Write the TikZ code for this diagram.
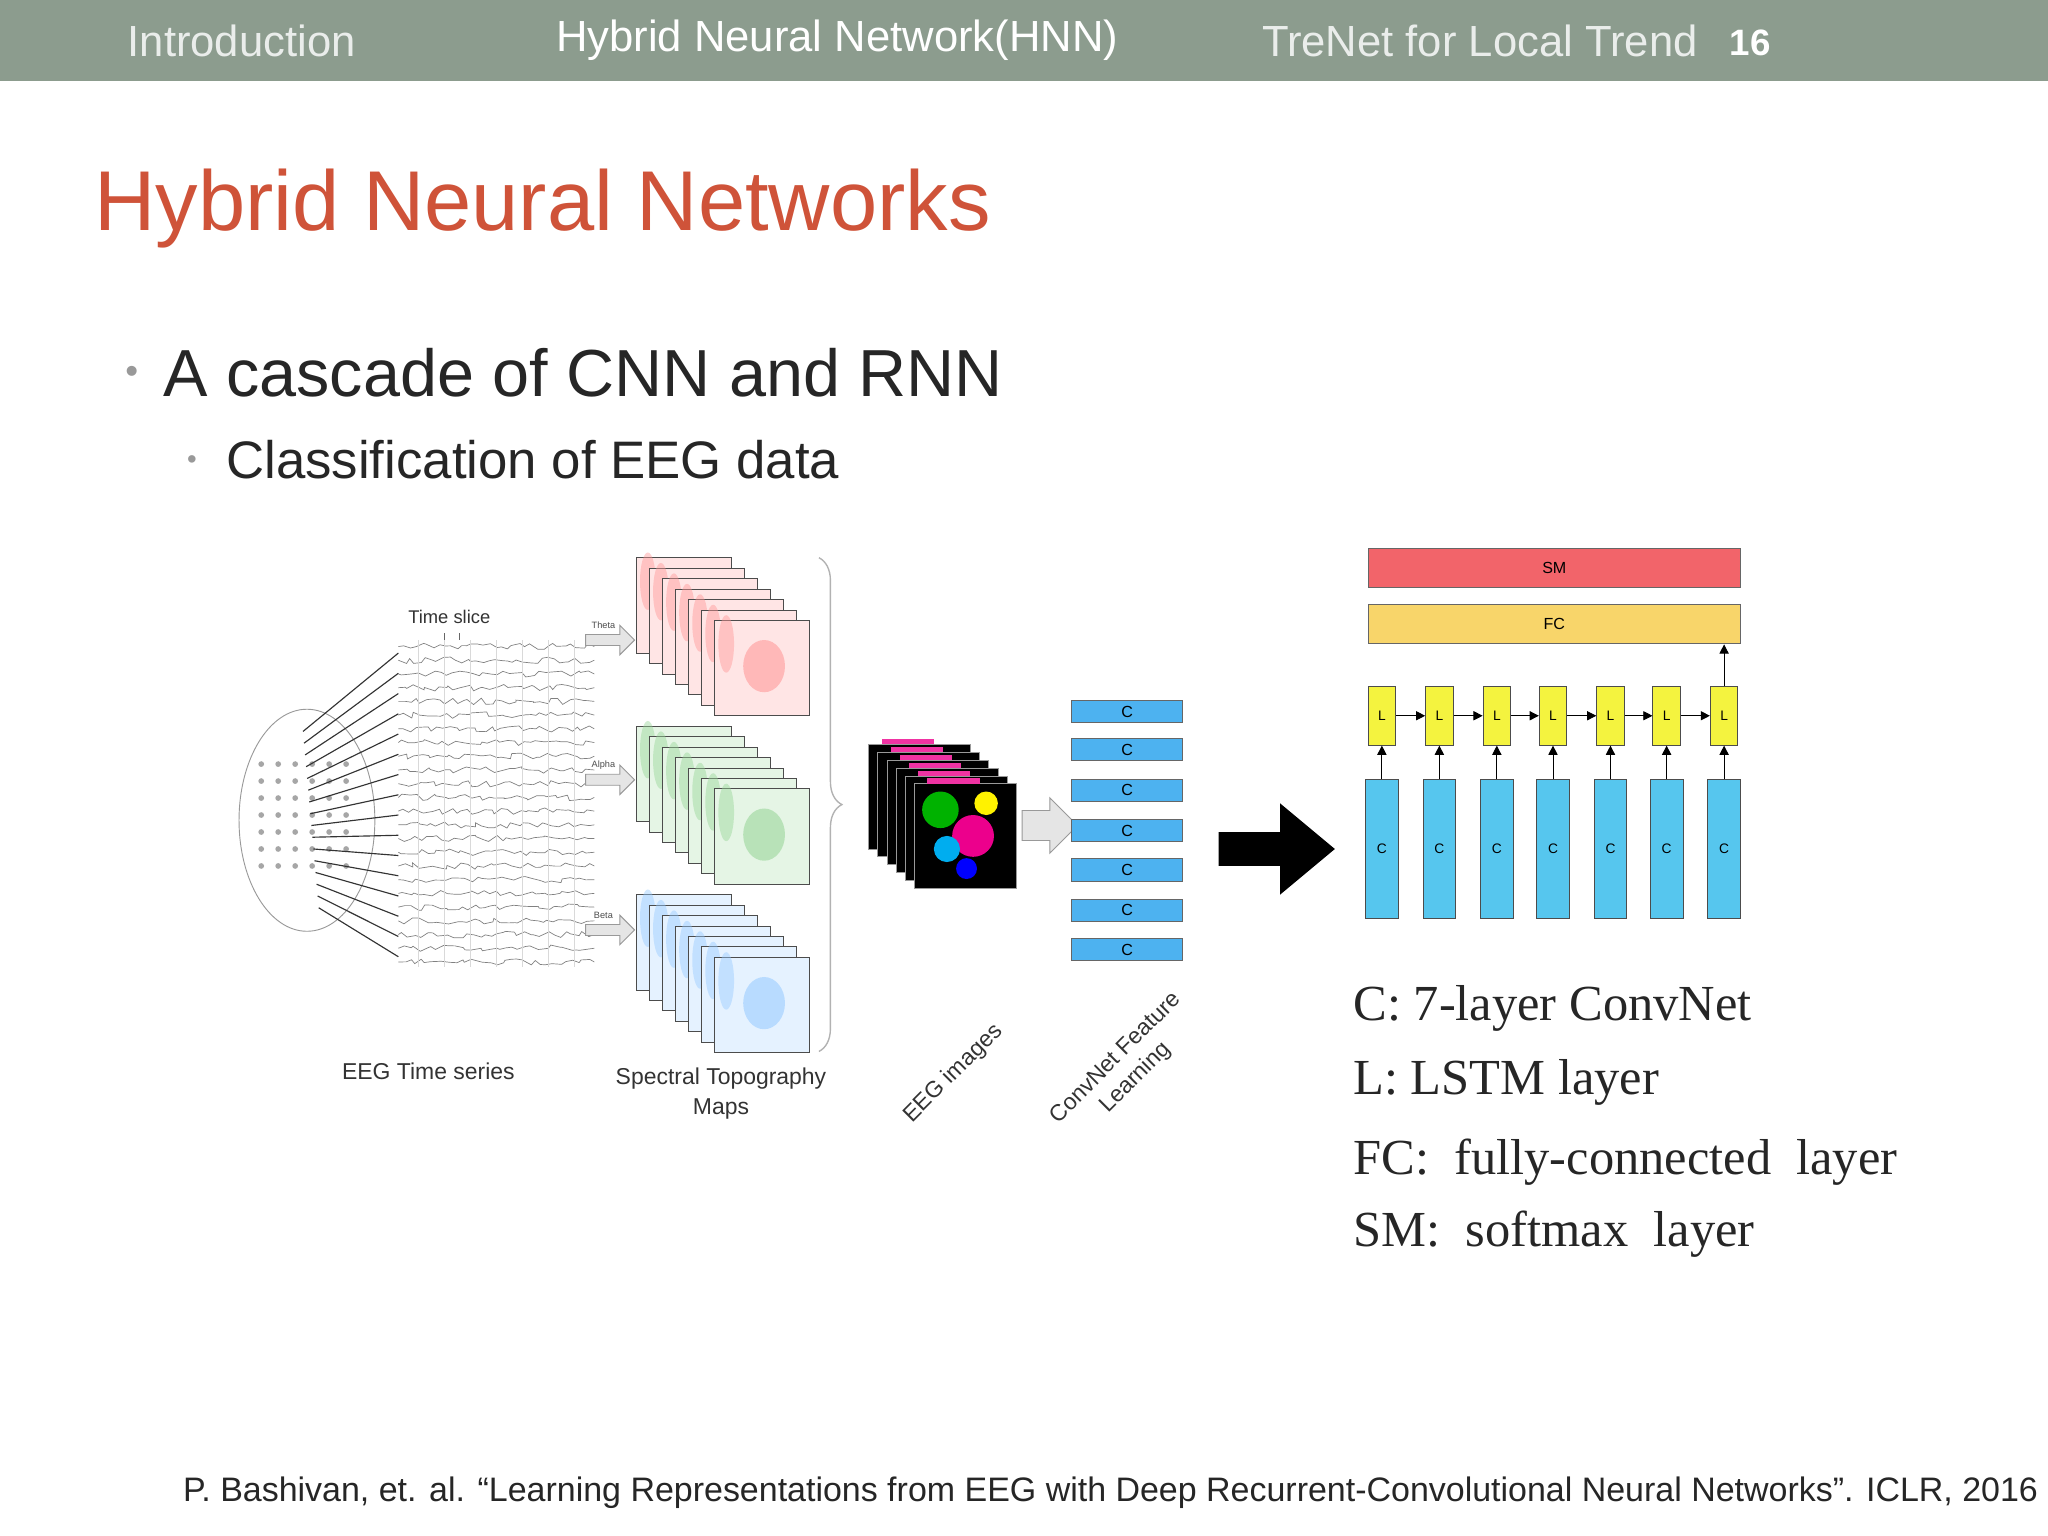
\documentclass[tikz,border=0pt]{standalone}
\usepackage{fontspec}
\setmainfont{Liberation Sans}
\newfontfamily\serifo{Liberation Serif}
\usetikzlibrary{decorations.pathmorphing,decorations.pathreplacing,arrows.meta,shapes.arrows}
\definecolor{bar}{HTML}{8C9C8E}
\definecolor{ttl}{HTML}{CF5339}
\definecolor{smred}{HTML}{F2646A}
\definecolor{fcyel}{HTML}{F8D56A}
\definecolor{lyel}{HTML}{F4F33F}
\definecolor{cblue}{HTML}{56C6EE}
\begin{document}
\begin{tikzpicture}[x=0.02cm,y=-0.02cm,
  hdr/.style={font=\fontsize{19}{22}\selectfont,text=white!82!bar},
  lbl/.style={font=\fontsize{8}{9}\selectfont,text=black!80,align=center},
  lbox/.style={draw=black!70,fill=lyel,minimum width=0.42cm,minimum height=0.9cm,inner sep=0pt,font=\fontsize{6}{7}\selectfont},
  cbox/.style={draw=black!70,fill=cblue,minimum width=0.5cm,minimum height=2.12cm,inner sep=0pt,font=\fontsize{6}{7}\selectfont},
  cbar/.style={draw=black!60,fill=cblue!90!blue,minimum width=1.7cm,minimum height=0.34cm,inner sep=0pt,font=\fontsize{7}{8}\selectfont},
  ar/.style={-{Triangle[length=4pt,width=4pt]},black},
  legend/.style={font=\serifo\fontsize{22}{24}\selectfont,anchor=west,text=black!85}]
\useasboundingbox (0,0) rectangle (1568,1176);
\fill[white] (0,0) rectangle (1568,1176);
% header
\fill[bar] (0,0) rectangle (1568,62);
\node[hdr] (h1) at (185,31) {Introduction};
\node[hdr,text=white] (h2) at (641,31) {Hybrid Neural Network(HNN)};
\node[hdr] (h3) at (1133,31) {TreNet for Local Trend};
\node[font=\bfseries\fontsize{16}{20}\selectfont,text=white] (h4) at (1340,33) {16};
% title
\node[anchor=west,text=ttl,font=\fontsize{37}{42}\selectfont] (t) at (66,160) {Hybrid Neural Networks};
\node[anchor=west,text=black!85,font=\fontsize{29}{34}\selectfont] (b1) at (119,285) {A cascade of CNN and RNN};
\node[text=black!40,font=\fontsize{16}{16}\selectfont] (d1) at (101,287) {•};
\node[anchor=west,text=black!85,font=\fontsize{23}{28}\selectfont] (b2) at (167,352) {Classification of EEG data};
\node[text=black!40,font=\fontsize{12}{12}\selectfont] (d2) at (147,354) {•};
% EEG head
\draw[black!40] (235,628) ellipse [x radius=52, y radius=85];
\foreach \i in {0,...,6}{\foreach \j in {0,...,5}{\fill[black!35] (200+\j*13,585+\i*13) circle (2.2);}}
% time series
\pgfmathsetseed{7}
\foreach \k in {0,...,23}{
  \draw[black!50,line width=0.3pt,decorate,decoration={random steps,segment length=2.5,amplitude=1.4}] (305,495+\k*10.5) -- (455,495+\k*10.5);
}
\foreach \x in {320,340,...,450}{\draw[black!15] (\x,490) -- (\x,740);}
\draw[black!60] (340,485) -- (340,490) (352,485) -- (352,490);
\foreach \k in {0,...,15}{
  \draw[black!80,line width=0.5pt] (232+\k*0.8,560+\k*9) -- (305,500+\k*15.5);
}
\node[lbl] (ts) at (344,472) {Time slice};
\node[lbl,font=\fontsize{10}{12}\selectfont] (eegts) at (328,820) {EEG Time series};
% small arrows
\foreach \yy/\nm in {490/Theta,597/Alpha,712/Beta}{
  \node[single arrow,draw=black!40,fill=black!10,minimum height=0.75cm,minimum width=0.45cm,single arrow head extend=2pt,inner sep=1pt] (a\nm) at (465,\yy) {};
  \node[font=\fontsize{4}{4}\selectfont,text=black!70] (l\nm) at (462,\yy-11) {\nm};
}
% maps
\foreach \c/\y in {red/475,green!60!black/604,blue!50!cyan/733}{
  \foreach \s in {6,5,...,0}{
    \fill[\c!10,draw=black!70,line width=0.4pt] (547-\s*10,\y-\s*8) rectangle ++(73,73);
    \fill[\c!40,opacity=0.45] (556-\s*10,\y+18-\s*8) ellipse [x radius=6,y radius=22];
  }
  \fill[\c!45,opacity=0.5] (585,\y+35) ellipse [x radius=16,y radius=20];
}
\draw[black!30,line width=0.6pt,decorate,decoration={brace,amplitude=10pt}] (627,427) -- (627,805);
\node[lbl,font=\fontsize{10}{13}\selectfont] (stm) at (552,837) {Spectral Topography\\Maps};
% EEG images
\foreach \s in {5,4,...,0}{
  \fill[black,draw=white!60!black,line width=0.3pt] (700-\s*7,600-\s*6) rectangle ++(78,80);
  \fill[magenta!80] (710-\s*7,596-\s*6) rectangle ++(40,4);
}
\fill[green!70!black] (720,620) circle (14);
\fill[magenta] (745,640) circle (16);
\fill[cyan] (725,650) circle (10);
\fill[yellow] (755,615) circle (9);
\fill[blue] (740,665) circle (8);
\node[lbl,rotate=45,font=\fontsize{10}{12}\selectfont] (eegi) at (730,822) {EEG images};
\node[single arrow,draw=black!40,fill=black!10,minimum height=0.85cm,minimum width=0.85cm,single arrow head extend=3pt] (ea) at (798,632) {};
% conv stack
\foreach \i/\yy in {1/545,2/574,3/605,4/636,5/666,6/697,7/727}{\node[cbar] (cs\i) at (863,\yy) {C};}
\node[lbl,rotate=45,font=\fontsize{10}{12}\selectfont] (cfl) at (862,818) {ConvNet Feature\\Learning};
% big arrow
\coordinate (big) at (978,650);
\fill[black] (933,637) -- (980,637) -- (980,615) -- (1022,650) -- (980,685) -- (980,663) -- (933,663) -- cycle;
% network
\node[draw=black!60,fill=smred,minimum width=5.7cm,minimum height=0.6cm,font=\fontsize{7}{8}\selectfont,inner sep=0pt] (sm) at (1190,435) {SM};
\node[draw=black!60,fill=fcyel,minimum width=5.7cm,minimum height=0.6cm,font=\fontsize{7}{8}\selectfont,inner sep=0pt] (fc) at (1190,478) {FC};
\foreach \i/\xx in {1/1058,2/1102,3/1146,4/1189,5/1233,6/1276,7/1320}{
  \node[lbox] (L\i) at (\xx,548) {L};
  \node[cbox] (C\i) at (\xx,650) {C};
  \draw[ar] (C\i) -- (L\i);
}
\foreach \i [evaluate=\i as \j using int(\i+1)] in {1,...,6}{\draw[ar] (L\i) -- (L\j);}
\draw[ar] (L7) -- (L7 |- fc.south);
% legend
\node[legend] (g1) at (1030,772) {C:\ 7-layer ConvNet};
\node[legend] (g2) at (1030,829) {L:\ LSTM layer};
\node[legend] (g3) at (1030,890) {FC:\ \ fully-connected\ \ layer};
\node[legend] (g4) at (1030,945) {SM:\ \ softmax\ \ layer};
% citation
\node[anchor=west,font=\fontsize{14.8}{16}\selectfont,text=black!85] (cit) at (134,1143) {P. Bashivan, et. al. “Learning Representations from EEG with Deep Recurrent-Convolutional Neural Networks”. ICLR, 2016};
\end{tikzpicture}
\end{document}
